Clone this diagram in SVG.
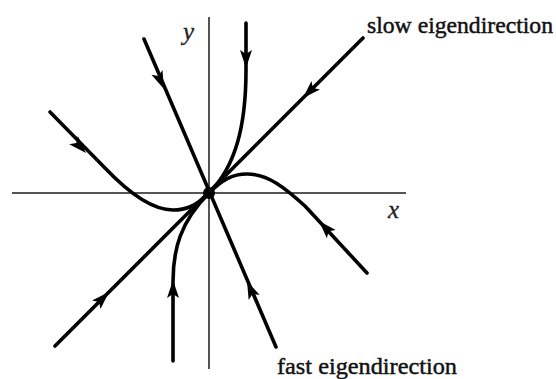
<svg xmlns="http://www.w3.org/2000/svg" width="556" height="379" viewBox="0 0 556 379">
  <defs>
    <style>
      .axis { stroke: #555; stroke-width: 2; fill: none; }
      .traj { stroke: #000; stroke-width: 3.6; fill: none; stroke-linecap: round; stroke-linejoin: round; }
      .lbl { font-family: "Liberation Serif", "DejaVu Serif", "Times New Roman", serif; fill: #111; stroke: #111; stroke-width: 0.45; }
      .var { font-family: "Liberation Serif", "DejaVu Serif", "Times New Roman", serif; font-style: italic; fill: #222; stroke: #222; stroke-width: 0.3; }
    </style>
    <path id="ah" d="M0,0 L-18,-6 L-14,0 L-18,6 Z" fill="#000"/>
  </defs>
  <rect width="556" height="379" fill="#fff"/>

  <g id="axes">
    <line class="axis" x1="12" y1="193" x2="406" y2="193"/>
    <line class="axis" x1="209" y1="17" x2="209" y2="369"/>
  </g>

  <g id="connectors">
    <!-- slow eigendirection -->
    <line class="traj" x1="363" y1="38" x2="55" y2="346"/>
    <!-- fast eigendirection -->
    <line class="traj" x1="144" y1="39" x2="276" y2="347"/>
    <!-- upper curve -->
    <path class="traj" d="M246,23 L246,70 C246,125 236,166 209,193"/>
    <!-- left curve -->
    <path class="traj" d="M50,112 L105,168 C125,189 150,210 173,210 C185,210 195,207 209,193"/>
    <!-- right curve -->
    <path class="traj" d="M209,193 C222,180 232,174 247,174 C268,174 285,188 305,206 L367,273"/>
    <!-- lower curve -->
    <path class="traj" d="M173,361 L173,282 C173,250 180,222 209,193"/>

    <!-- arrowheads -->
    <use href="#ah" transform="translate(303,98) rotate(135)"/>
    <use href="#ah" transform="translate(164,89) rotate(67)"/>
    <use href="#ah" transform="translate(246,68) rotate(90)"/>
    <use href="#ah" transform="translate(86,153) rotate(46)"/>
    <use href="#ah" transform="translate(319,221) rotate(-133)"/>
    <use href="#ah" transform="translate(173,280) rotate(-90)"/>
    <use href="#ah" transform="translate(109,292) rotate(-45)"/>
    <use href="#ah" transform="translate(247,281) rotate(-113.5)"/>
  </g>

  <g id="origin">
    <circle cx="209" cy="193" r="6" fill="#000"/>
  </g>

  <g id="labels">
    <text class="var" x="183" y="40" font-size="25">y</text>
    <text class="var" x="388" y="218" font-size="25">x</text>
    <text class="lbl" x="367" y="33" font-size="23" textLength="186" lengthAdjust="spacingAndGlyphs">slow eigendirection</text>
    <text class="lbl" x="277" y="374" font-size="23" textLength="180" lengthAdjust="spacingAndGlyphs">fast eigendirection</text>
  </g>
</svg>
